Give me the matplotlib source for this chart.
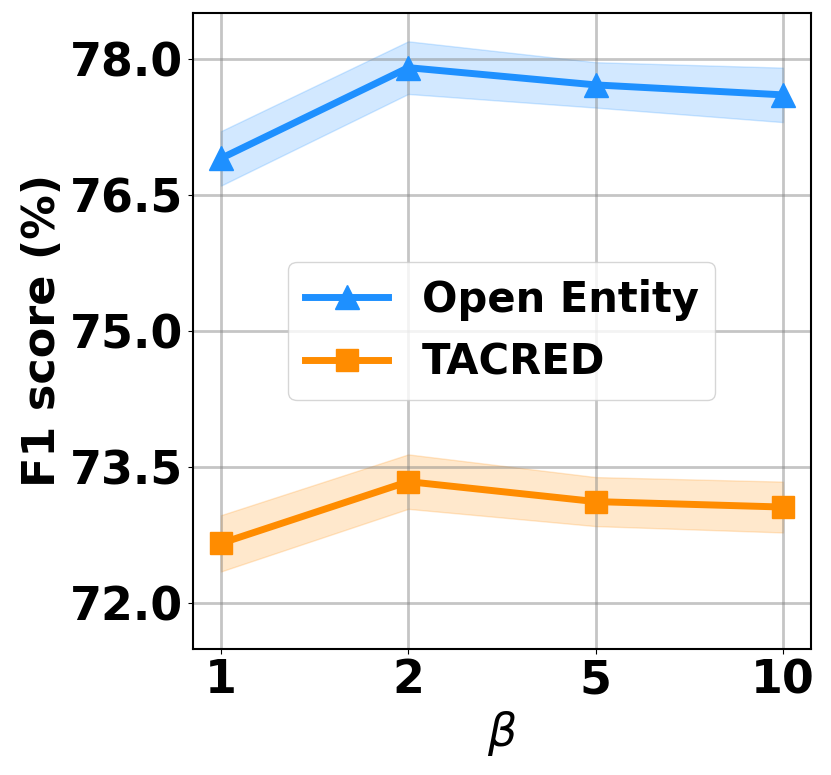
import numpy as np
import matplotlib
matplotlib.use('Agg')
import matplotlib.pyplot as plt

# values
betas = ['1', '2', '5', '10']
open_entity = [76.9, 77.9, 77.71, 77.6]
open_entity_std = [0.3, 0.29, 0.25, 0.3]
tacred = [72.66, 73.34, 73.12, 73.06]
tacred_std = [0.31, 0.3, 0.27, 0.28]
yticks = [72.0, 73.5, 75.0, 76.5, 78.0]

x = np.arange(len(betas))
oe = np.array(open_entity)
oe_s = np.array(open_entity_std)
ta = np.array(tacred)
ta_s = np.array(tacred_std)

fig, ax = plt.subplots(figsize=(8.31, 7.75), dpi=100)
fig.subplots_adjust(left=0.232, right=0.976, top=0.983, bottom=0.163)

ax.plot(x, oe, marker='^', color='dodgerblue', linewidth=5, markersize=17, label='Open Entity')
ax.fill_between(x, oe - oe_s, oe + oe_s, color='dodgerblue', alpha=0.2)
ax.plot(x, ta, marker='s', color='darkorange', linewidth=5, markersize=16, label='TACRED')
ax.fill_between(x, ta - ta_s, ta + ta_s, color='darkorange', alpha=0.2)

ax.set_xticks(x)
ax.set_xticklabels(betas)
ax.set_yticks(yticks)
ax.set_yticklabels(['%.1f' % v for v in yticks])
ax.set_ylim(71.5, 78.5)
ax.tick_params(labelsize=33)
for lab in ax.get_xticklabels() + ax.get_yticklabels():
    lab.set_fontweight('bold')

ax.grid(True, color='gray', alpha=0.45, linewidth=2)
for sp in ax.spines.values():
    sp.set_linewidth(1.5)

ax.set_xlabel(r'$\beta$', fontsize=33)
ax.set_ylabel('F1 score (%)', fontsize=32, fontweight='bold')

ax.legend(loc='center', prop={'size': 30, 'weight': 'bold'})

fig.savefig('out.png', dpi=100)
